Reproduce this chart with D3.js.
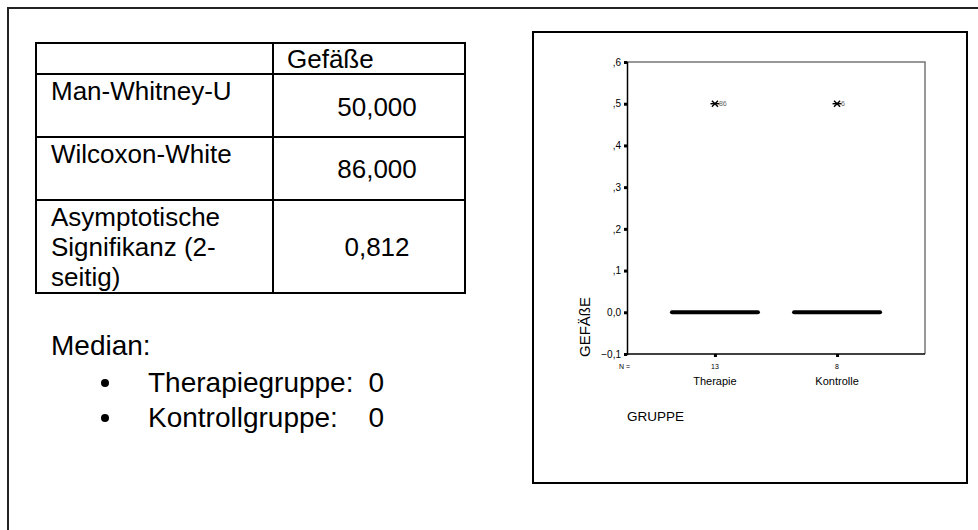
<!DOCTYPE html>
<html>
<head>
<meta charset="utf-8">
<script src="https://cdn.jsdelivr.net/npm/d3@7"></script>
<style>
  body { margin: 0; background: #fff; }
  svg { display: block; font-family: "Liberation Sans", Arial, sans-serif; }
</style>
</head>
<body>
<svg width="978" height="530"></svg>
<script>
// test table
const tableHeader = 'Gefäße'
const testNames = [['Man-Whitney-U'], ['Wilcoxon-White'], ['Asymptotische', 'Signifikanz (2-', 'seitig)']]
const testValues = ['50,000', '86,000', '0,812']

// median list
const medianGroups = ['Therapiegruppe:', 'Kontrollgruppe:']
const medianValues = [0, 0]

// boxplot
const groups = ['Therapie', 'Kontrolle']
const groupN = [13, 8]
const groupMedian = [0, 0]
const outlierValue = [0.5, 0.5]
const outlierCase = ['86', '6']
const yTicks = [-0.1, 0, 0.1, 0.2, 0.3, 0.4, 0.5, 0.6]

const svg = d3.select('svg')

// outer page frame (only top + left show)
svg.append('path')
  .attr('d', 'M8,530 V8 H978')
  .attr('fill', 'none')
  .attr('stroke', '#222')
  .attr('stroke-width', 2)

//Table
const colX = [36, 273, 465]
const rowY = [43, 74, 137, 200, 293]
const t = svg.append('g').attr('font-size', 26)

t.append('rect')
  .attr('x', colX[0]).attr('y', rowY[0])
  .attr('width', colX[2] - colX[0]).attr('height', rowY[4] - rowY[0])
  .attr('fill', 'none').attr('stroke', '#000').attr('stroke-width', 2)
rowY.slice(1, 4).forEach(y => {
  t.append('line').attr('x1', colX[0]).attr('x2', colX[2]).attr('y1', y).attr('y2', y)
    .attr('stroke', '#000').attr('stroke-width', 2)
})
t.append('line').attr('x1', colX[1]).attr('x2', colX[1]).attr('y1', rowY[0]).attr('y2', rowY[4])
  .attr('stroke', '#000').attr('stroke-width', 2)

t.append('text').attr('x', 287).attr('y', 68).text(tableHeader)

const nameBase = [100, 163, 226]
testNames.forEach((lines, i) => {
  lines.forEach((line, j) => {
    t.append('text').attr('x', 51).attr('y', nameBase[i] + j * 30).text(line)
  })
})
const valBase = [116, 178, 256]
testValues.forEach((v, i) => {
  t.append('text').attr('x', 377).attr('y', valBase[i])
    .attr('text-anchor', 'middle').text(v)
})

// Median list
svg.append('text').attr('x', 51).attr('y', 355).attr('font-size', 28).text('Median:')
medianGroups.forEach((g, i) => {
  const y = 392 + i * 35
  svg.append('circle').attr('cx', 105).attr('cy', y - 9).attr('r', 4).attr('fill', '#000')
  svg.append('text').attr('x', 148).attr('y', y).attr('font-size', 28).text(g)
  svg.append('text').attr('x', 384).attr('y', y).attr('text-anchor', 'end')
    .attr('font-size', 28).text(medianValues[i])
})

// Chart frame
svg.append('rect')
  .attr('x', 533).attr('y', 32).attr('width', 434).attr('height', 451)
  .attr('fill', 'none').attr('stroke', '#000').attr('stroke-width', 2)

const plot = { left: 627, right: 925, top: 62, bottom: 354 }

const y = d3.scaleLinear().domain([-0.1, 0.6]).range([plot.bottom, plot.top])
const x = d3.scalePoint().domain(groups).range([plot.left, plot.right]).padding(0.72)

// SPSS style german numbers: ,5  0,0  -,1
const fmt = v => {
  if (Math.abs(v) < 1e-9) return '0,0'
  const s = d3.format('.1f')(v).replace('.', ',')
  return s.replace(/^(-?)0,/, '$1,')
}

// top and right border of plot are gray
svg.append('path')
  .attr('d', `M${plot.left},${plot.top} H${plot.right} V${plot.bottom}`)
  .attr('fill', 'none').attr('stroke', '#777').attr('stroke-width', 1.5)

const yAxis = svg.append('g')
  .attr('transform', `translate(${plot.left},0)`)
  .call(d3.axisLeft(y).tickValues(yTicks).tickFormat(fmt).tickSize(3).tickPadding(3))
yAxis.select('.domain').attr('stroke', '#000').attr('stroke-width', 1.5)
yAxis.selectAll('.tick line').attr('stroke', '#000').attr('stroke-width', 3)
yAxis.selectAll('.tick text').attr('font-size', 10).attr('font-family', '"Liberation Sans", Arial, sans-serif')
  .attr('fill', '#000')

const xAxis = svg.append('g')
  .attr('transform', `translate(0,${plot.bottom})`)
  .call(d3.axisBottom(x).tickSize(3).tickFormat(''))
xAxis.select('.domain').attr('d', `M${plot.left},0H${plot.right}`).attr('stroke', '#000').attr('stroke-width', 1.5)
xAxis.selectAll('.tick line').attr('stroke', '#000').attr('stroke-width', 3)

// N row
svg.append('text').attr('x', 619).attr('y', 369).attr('font-size', 7).text('N =')
groups.forEach((g, i) => {
  svg.append('text').attr('x', x(g)).attr('y', 369).attr('text-anchor', 'middle')
    .attr('font-size', 7).text(groupN[i])
  svg.append('text').attr('x', x(g)).attr('y', 385).attr('text-anchor', 'middle')
    .attr('font-size', 11).text(g)
})

// median lines (box collapsed to 0)
groups.forEach((g, i) => {
  svg.append('line')
    .attr('x1', x(g) - 43).attr('x2', x(g) + 43)
    .attr('y1', y(groupMedian[i])).attr('y2', y(groupMedian[i]))
    .attr('stroke', '#000').attr('stroke-width', 4).attr('stroke-linecap', 'round')
})

// extreme values
const star = d3.symbol().type(d3.symbolTimes).size(26)
groups.forEach((g, i) => {
  const cy = y(outlierValue[i])
  svg.append('path').attr('d', star).attr('transform', `translate(${x(g)},${cy})`)
    .attr('stroke', '#000').attr('stroke-width', 1.4).attr('fill', 'none')
  svg.append('path').attr('d', `M${x(g) - 4.5},${cy}H${x(g) + 4.5}`)
    .attr('stroke', '#000').attr('stroke-width', 1.4)
  svg.append('text').attr('x', x(g) + 4).attr('y', cy + 2.5).attr('font-size', 7)
    .attr('fill', '#666').text(outlierCase[i])
})

// axis titles
svg.append('text')
  .attr('transform', 'translate(590,327) rotate(-90)')
  .attr('text-anchor', 'middle').attr('font-size', 15).text('GEFÄßE')
svg.append('text').attr('x', 627).attr('y', 421).attr('font-size', 13.5).text('GRUPPE')
</script>
</body>
</html>
